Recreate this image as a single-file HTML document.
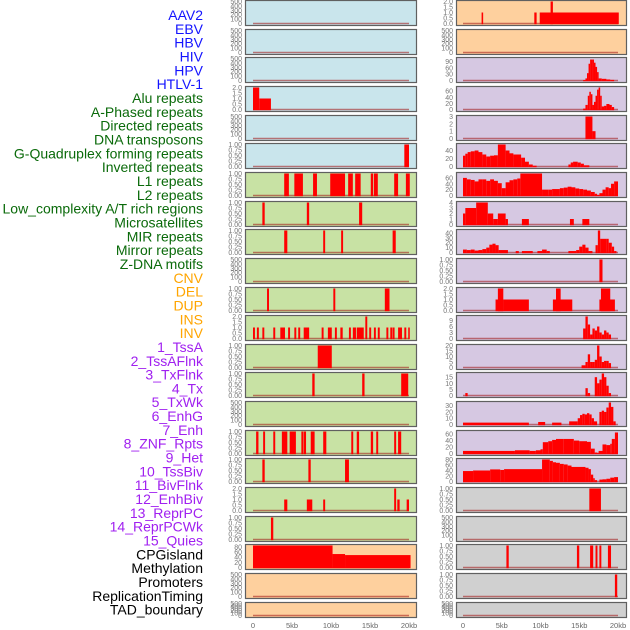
<!DOCTYPE html>
<html><head><meta charset="utf-8"><style>
html,body{margin:0;padding:0;background:#fff;width:630px;height:630px;overflow:hidden}
svg{display:block;font-family:"Liberation Sans",sans-serif}
</style></head><body>
<svg id="chart" width="630" height="630"></svg>
<script>
const trackLabels = ["AAV2","EBV","HBV","HIV","HPV","HTLV-1","Alu repeats","A-Phased repeats","Directed repeats","DNA transposons","G-Quadruplex forming repeats","Inverted repeats","L1 repeats","L2 repeats","Low_complexity A/T rich regions","Microsatellites","MIR repeats","Mirror repeats","Z-DNA motifs","CNV","DEL","DUP","INS","INV","1_TssA","2_TssAFlnk","3_TxFlnk","4_Tx","5_TxWk","6_EnhG","7_Enh","8_ZNF_Rpts","9_Het","10_TssBiv","11_BivFlnk","12_EnhBiv","13_ReprPC","14_ReprPCWk","15_Quies","CPGisland","Methylation","Promoters","ReplicationTiming","TAD_boundary"];
const labelColors = ["#1414ff","#1414ff","#1414ff","#1414ff","#1414ff","#1414ff","#0a6a0a","#0a6a0a","#0a6a0a","#0a6a0a","#0a6a0a","#0a6a0a","#0a6a0a","#0a6a0a","#0a6a0a","#0a6a0a","#0a6a0a","#0a6a0a","#0a6a0a","#ffa500","#ffa500","#ffa500","#ffa500","#ffa500","#a020f0","#a020f0","#a020f0","#a020f0","#a020f0","#a020f0","#a020f0","#a020f0","#a020f0","#a020f0","#a020f0","#a020f0","#a020f0","#a020f0","#a020f0","#000","#000","#000","#000","#000"];
const xTicks = [0,5,10,15,20];
const xTickLabels = ["0","5kb","10kb","15kb","20kb"];
const E = [0,100,200,300,400,500];
const T1 = [0,0.25,0.5,0.75,1];
const T2 = [0,0.5,1,1.5,2];
const leftTicks = [E,E,E,T2,E,T1,T1,T1,T1,E,T1,T2,T1,T1,E,T1,T1,T2,T1,[0,20,40,60,80],E,E];
const leftMax = [500,500,500,2,500,1,1,1,1,500,1,2,1,1,500,1,1,2,1,85,500,500];
const leftBg = ["#c9e5ec","#c9e5ec","#c9e5ec","#c9e5ec","#c9e5ec","#c9e5ec","#c8e2a4","#c8e2a4","#c8e2a4","#c8e2a4","#c8e2a4","#c8e2a4","#c8e2a4","#c8e2a4","#c8e2a4","#c8e2a4","#c8e2a4","#c8e2a4","#c8e2a4","#fed09e","#fed09e","#fed09e"];
const leftBars = [
 [],[],[],
 [[0,0.8,2],[0.8,2.3,1]],
 [],
 [[19.4,20,1]],
 [[4.0,4.6,1],[5.3,6.4,1],[7.7,8.2,1],[9.9,11.8,1],[12.2,12.8,1],[13.1,13.8,1],[15.1,15.4,1],[15.5,16.0,1],[18.1,18.6,1],[19.6,20.1,1]],
 [[1.2,1.5,1],[6.9,7.2,1],[13.6,14.0,1]],
 [[4.0,4.4,1],[9.0,9.25,1],[11.3,11.55,1],[17.9,18.3,1]],
 [],
 [[1.8,2.05,1],[10.3,10.55,1],[16.9,17.5,1]],
 [[0,0.25,1],[0.5,0.75,1],[1.2,1.45,1],[2.6,2.85,1],[3.5,4.1,1],[4.5,4.75,1],[5.3,5.55,1],[5.8,6.05,1],[6.5,7.2,1],[8.8,9.05,1],[9.6,10.1,1],[10.5,10.75,1],[11.2,11.5,1],[12.3,12.55,1],[12.8,13.2,1],[13.3,14.2,1],[14.4,14.65,2],[14.9,15.15,1],[15.5,15.75,1],[16.0,16.25,1],[17.1,17.35,1],[17.6,17.85,1],[17.9,18.15,1],[18.6,19.1,1],[19.4,19.65,1],[19.9,20.1,1]],
 [[8.3,10.1,1]],
 [[7.6,7.9,1],[14.0,14.3,1],[19.0,19.9,1]],
 [],
 [[0.4,0.7,1],[1.3,1.55,1],[2.6,2.85,1],[3.7,4.4,1],[4.7,5.5,1],[6.2,6.45,1],[6.5,6.8,1],[7.4,7.9,1],[9.0,9.4,1],[12.6,12.85,1],[13.3,13.6,1],[15.1,15.4,1],[15.8,16.05,1],[18.1,18.35,1],[18.6,19.0,1]],
 [[1.2,1.5,1],[7.1,7.4,1],[11.8,12.3,1]],
 [[4.0,4.4,1],[6.9,7.6,1],[9.0,9.25,1],[18.1,18.35,2],[18.5,18.8,1],[19.7,20.0,1]],
 [[2.3,2.6,1]],
 [[0,10.2,85],[10.2,11.8,52],[11.8,20.2,48]],
 [],[]
];
const rightTicks = [T2,E,[0,30,60,90],[0,20,40,60],[0,1,2,3],[0,20,40],[0,20,40,60],[0,1,2,3,4],[0,10,20,30,40],T1,T2,[0,3,6,9],[0,5,10,15,20],[0,5,10,15],[0,10,20,30],[0,20,40,60],[0,20,40,60,80],T1,E,T1,T1,E];
const rightMax = [2,500,105,72,3,55,75,4,45,1,2,11,20,18,35,68,80,1,500,1,1,500];
const rightBg = ["#fed09e","#fed09e","#d6c8e2","#d6c8e2","#d6c8e2","#d6c8e2","#d6c8e2","#d6c8e2","#d6c8e2","#d6c8e2","#d6c8e2","#d6c8e2","#d6c8e2","#d6c8e2","#d6c8e2","#d6c8e2","#d6c8e2","#d0d0d0","#d0d0d0","#d0d0d0","#d0d0d0","#d0d0d0"];
// step profiles: [x_kb, value] – each step runs to the next x
const rightSteps = [
 null,null,
 [[15.5,2],[15.8,10],[16.0,35],[16.2,80],[16.4,100],[16.7,100],[16.9,85],[17.1,65],[17.3,40],[17.5,10],[17.9,8],[18.5,5],[19.0,3],[19.5,0]],
 [[15.5,3],[15.8,15],[16.1,45],[16.3,58],[16.5,50],[16.7,15],[16.9,25],[17.1,45],[17.3,65],[17.5,72],[17.7,45],[17.9,10],[18.2,12],[18.5,18],[18.9,15],[19.2,8],[19.5,0]],
 null,
 [[0,27],[0.3,32],[0.6,36],[1,38],[1.5,40],[2,36],[2.5,30],[3,25],[3.5,27],[4,28],[4.5,55],[5.5,40],[6,33],[6.5,30],[7.5,22],[8,12],[8.5,5],[9,2],[9.5,0],[13.6,5],[13.9,10],[14.2,12],[14.8,10],[15.2,7],[15.6,3],[16.3,0]],
 [[0,60],[0.5,55],[1,53],[1.5,48],[2,55],[2.5,55],[3,50],[3.5,55],[4,50],[4.5,42],[5,25],[5.5,45],[6,52],[6.5,55],[7,58],[7.4,75],[10.2,20],[11,20],[11.5,22],[12,22],[12.5,25],[13,27],[13.5,30],[14,28],[14.5,24],[15,22],[15.5,20],[16,17],[16.5,12],[17,6],[17.3,2],[17.6,8],[18,20],[18.4,28],[18.8,25],[19.1,40],[19.5,48],[20,0]],
 null,
 [[0,6],[0.5,5],[1,6],[1.5,4],[2,5],[2.5,7],[3,10],[3.4,16],[3.8,18],[4.2,15],[4.6,5],[5.8,0],[6.8,3],[7.2,0],[7.6,3],[9.0,0],[9.6,3],[10.2,6],[10.8,3],[11.2,0],[13.6,3],[14.6,5],[15.0,12],[15.4,16],[15.8,10],[16.2,3],[16.7,0],[17.1,15],[17.4,45],[17.7,28],[18.5,28],[18.8,20],[19.2,12],[19.5,3],[19.8,0]],
 null,
 null,
 [[15.5,5],[15.8,11],[16.1,7],[16.4,2],[16.7,5],[17.0,4],[17.3,6],[17.6,3],[17.9,2],[18.2,4],[18.5,3],[18.8,2],[19.1,0]],
 [[15.3,2],[15.8,5],[16.1,12],[16.4,5],[16.7,5],[17.0,7],[17.3,20],[17.6,10],[17.9,5],[18.2,6],[18.5,6],[18.8,4],[19.1,0]],
 [[0.3,2],[0.6,0],[15.8,6],[16.1,2],[16.4,0],[17.0,15],[17.3,10],[17.6,13],[17.9,18],[18.2,15],[18.5,8],[18.8,2],[19.1,0]],
 [[0,3],[8.5,0],[9.7,4],[10.6,0],[11.5,3],[12.7,0],[13.7,5],[14.8,10],[15.1,15],[15.4,17],[15.7,16],[16.0,18],[16.3,16],[16.6,10],[16.9,5],[17.3,0],[17.6,20],[17.9,22],[18.2,20],[18.5,27],[18.8,35],[19.1,28],[19.4,5],[19.7,0]],
 [[0,8],[6.7,10],[8.6,8],[9.4,10],[10.0,13],[10.3,35],[11,38],[11.5,42],[12,45],[13,45],[14.3,40],[15,38],[16,36],[16.5,15],[17,3],[17.3,2],[17.5,8],[18,28],[18.5,26],[19,30],[19.2,45],[19.6,65],[20,0]],
 [[0,38],[1.3,40],[3.5,44],[4.8,42],[5.3,45],[10.2,80],[11.2,75],[11.6,70],[12,68],[12.5,64],[13,62],[13.5,58],[14,53],[15.8,50],[16.2,45],[16.5,25],[16.8,12],[17,5],[17.3,0],[17.6,7],[18,8],[18.5,10],[19,14],[19.5,16],[20,0]],
 null,null,null,null,null
];
const rightBars = [
 [[2.4,2.6,1],[9.2,9.5,1],[9.9,20.1,1],[11.3,11.6,2]],
 [],null,null,
 [[15.8,16.7,3],[16.7,17.1,1]],
 null,null,
 [[0,0.3,2],[0.3,1.7,3],[1.7,3.2,4],[3.2,3.9,2],[3.9,4.5,1],[4.5,5.5,2],[5.5,5.8,1],[7.6,8.5,1],[13.8,14.3,1],[15.4,16.3,1]],
 null,
 [[17.6,18.0,1]],
 [[4.2,5.2,1],[4.5,5.2,2],[5.2,8.5,1],[11.6,14.1,1],[12.0,12.6,2],[17.6,19.6,1],[17.8,19.0,2]],
 null,null,null,null,null,null,
 [[16.3,17.8,1]],
 [],
 [[5.6,5.9,1],[14.7,15.0,1],[16.4,16.8,1],[17.1,17.35,1],[17.6,17.85,1],[18.7,19.1,1]],
 [[19.6,19.9,1]],
 []
];

const NS="http://www.w3.org/2000/svg";
const svg=document.getElementById('chart');
function mk(tag,attrs,parent){const e=document.createElementNS(NS,tag);for(const k in attrs)e.setAttribute(k,attrs[k]);(parent||svg).appendChild(e);return e;}
function rowTop(i){return Math.round(i*28.65);}
function rowH(i){return i===21?15:25;}
function fmt(v,ticks){const m=ticks[ticks.length-1];if(m===1)return v.toFixed(2);if(m===2)return v.toFixed(1);return String(v);}

// labels
trackLabels.forEach((t,i)=>{
  const el=mk('text',{x:203,y:20+i*13.83,'text-anchor':'end','font-size':'14',fill:labelColors[i]});
  
  
  el.textContent=t;
});

function drawColumn(side,x0,x1,d0,d20,ticks,maxs,bgs,bars,steps){
  const xs=kb=>d0+(d20-d0)*kb/20;
  for(let i=0;i<22;i++){
    const top=rowTop(i),h=rowH(i);
    const g=mk('g',{});
    
    
    const r=mk('rect',{x:x0+0.5,y:top+0.5,width:x1-x0,height:h,fill:bgs[i],stroke:'#606060','stroke-width':1.2},g);
    
    
    const base=top+h-1.5, ph=h-3;
    const ys=v=>base-ph*Math.min(v,maxs[i])/maxs[i];
    // baseline
    const bl=mk('line',{x1:xs(0),x2:xs(20),y1:base,y2:base,stroke:'rgba(160,20,20,0.55)','stroke-width':1.5},g);
    
    
    // bars
    const list=[];
    if(bars&&bars[i])bars[i].forEach(b=>list.push(b));
    if(steps&&steps[i]){const s=steps[i];for(let k=0;k<s.length-1;k++)if(s[k][1]>0)list.push([s[k][0],s[k+1][0],s[k][1]]);}
    list.forEach(b=>{
      const x=xs(b[0]),w=Math.max(xs(b[1])-x,1.2),y=ys(b[2]);
      const br=mk('rect',{x:x,y:y,width:w,height:base+0.7-y,fill:'#ff0000'},g);
      
      
    });
    // ticks
    const tk=ticks[i];
    tk.forEach(v=>{
      const t=mk('text',{x:x0-3,y:ys(v)+2.5,'text-anchor':'end','font-size':'7',fill:'#777'},g);
      
      
      t.textContent=fmt(v,tk);
    });
  }
  xTicks.forEach((v,k)=>{
    const t=mk('text',{x:xs(v),y:628,'text-anchor':'middle','font-size':'7.5',fill:'#666'});
    
    
    t.textContent=xTickLabels[k];
  });
}
drawColumn('left',245,416,253,409,leftTicks,leftMax,leftBg,leftBars,null);
drawColumn('right',456,626,463,618,rightTicks,rightMax,rightBg,rightBars,rightSteps);
</script>
</body></html>
